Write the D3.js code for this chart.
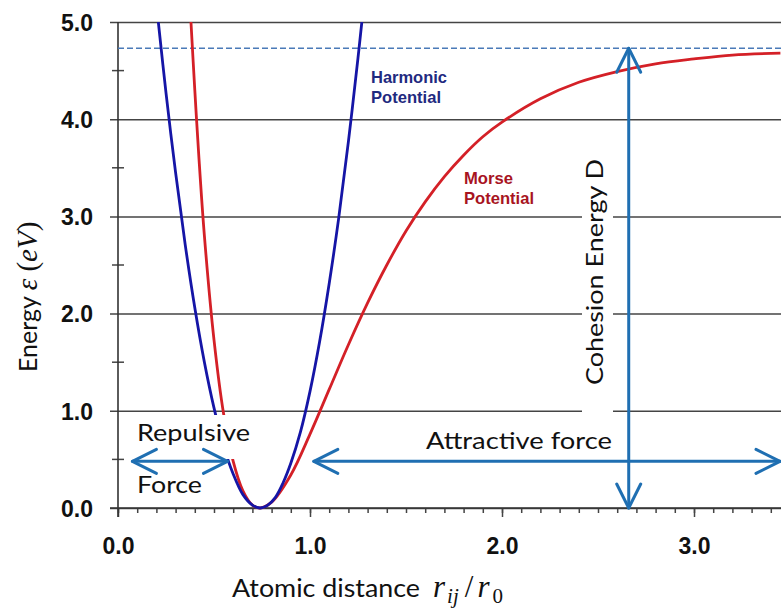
<!DOCTYPE html>
<html><head><meta charset="utf-8">
<script src="https://cdn.jsdelivr.net/npm/d3@7"></script>
<style>body{margin:0;background:#fff}svg{display:block}</style>
</head><body><svg id="chart" width="781" height="614"></svg>
<script>
// ---- data ----
const seriesNames = ["Harmonic Potential", "Morse Potential"];
const harmonicX = [0.21,0.25,0.30,0.35,0.40,0.45,0.50,0.55,0.60,0.65,0.70,0.74,0.78,0.82,0.86,0.90,0.95,1.00,1.05,1.10,1.15,1.20,1.25,1.27];
const harmonicY = [5.00,4.27,3.45,2.71,2.06,1.50,1.03,0.64,0.35,0.14,0.03,0.00,0.03,0.11,0.26,0.46,0.78,1.20,1.71,2.31,2.99,3.77,4.63,5.00];
const morseX = [0.38,0.40,0.42,0.45,0.50,0.55,0.60,0.65,0.70,0.74,0.80,0.90,1.00,1.10,1.20,1.30,1.40,1.50,1.60,1.70,1.80,1.90,2.00,2.20,2.40,2.60,2.80,3.00,3.20,3.45];
const morseY = [5.00,4.30,3.65,2.80,1.73,0.97,0.48,0.18,0.03,0.00,0.06,0.34,0.76,1.22,1.68,2.11,2.50,2.85,3.15,3.41,3.63,3.82,3.97,4.21,4.38,4.49,4.57,4.62,4.66,4.68];
const cohesionEnergy = 4.73;
const cohesionX = 2.66;
const forceArrowY = 0.48;
const repulsiveRange = [0.07, 0.57];
const attractiveRange = [1.02, 3.45];
const yTickValues = [0, 1, 2, 3, 4, 5];
const yTickLabels = ["0.0", "1.0", "2.0", "3.0", "4.0", "5.0"];
const yMinorValues = [0.5, 1.5, 2.5, 3.5, 4.5];
const xTickValues = [0, 1, 2, 3];
const xTickLabels = ["0.0", "1.0", "2.0", "3.0"];

// ---- chart ----
const W = 781, H = 614;
const svg = d3.select("#chart");
svg.append("rect").attr("width", W).attr("height", H).attr("fill", "#fff");

const x = d3.scaleLinear().domain([0, 1]).range([118, 310]);
const y = d3.scaleLinear().domain([0, 5]).range([508, 22]);
const xMax = x.invert(W);

const gridColor = "#444";
const arrowColor = "#1f6fb2";
const arial = "'Liberation Sans', Arial, sans-serif";

// horizontal gridlines + y labels (axisLeft)
const yAxis = d3.axisLeft(y).tickValues(yTickValues)
  .tickFormat((d, i) => yTickLabels[i])
  .tickSizeInner(-(W - 110)).tickSizeOuter(0).tickPadding(17);
const gy = svg.append("g").attr("transform", "translate(110,0)").call(yAxis);
gy.select(".domain").remove();
gy.selectAll(".tick line").attr("stroke", gridColor).attr("stroke-width", 1.5);
gy.selectAll(".tick text").attr("font-family", arial)
  .attr("font-weight", "bold").attr("font-size", 23).attr("fill", "#111").attr("dy", "0.36em");

// y minor ticks
svg.append("g").selectAll("line").data(yMinorValues).join("line")
  .attr("x1", 112).attr("x2", 124).attr("y1", d => y(d)).attr("y2", d => y(d))
  .attr("stroke", gridColor).attr("stroke-width", 1.5);

// x minor ticks
const xMinor = d3.range(0, 35).map(i => i / 10).filter(v => v <= xMax);
const xAxisMinor = d3.axisBottom(x).tickValues(xMinor).tickFormat("").tickSizeInner(5).tickSizeOuter(0);
const gxm = svg.append("g").attr("transform", "translate(0,508)").call(xAxisMinor);
gxm.select(".domain").remove();
gxm.selectAll(".tick line").attr("stroke", gridColor).attr("stroke-width", 1.5);

// x major ticks + labels
const xAxis = d3.axisBottom(x).tickValues(xTickValues).tickFormat((d, i) => xTickLabels[i])
  .tickSizeInner(9).tickSizeOuter(0).tickPadding(25);
const gx = svg.append("g").attr("transform", "translate(0,508)").call(xAxis);
gx.select(".domain").remove();
gx.selectAll(".tick line").attr("stroke", gridColor).attr("stroke-width", 1.5);
gx.selectAll(".tick text").attr("font-family", arial)
  .attr("font-weight", "bold").attr("font-size", 23).attr("fill", "#111").attr("dy", "0.5em");

// axis lines
svg.append("line").attr("x1", x(0)).attr("x2", x(0)).attr("y1", y(5)).attr("y2", 517)
  .attr("stroke", "#333").attr("stroke-width", 1.6);
svg.append("line").attr("x1", 110).attr("x2", W).attr("y1", y(0)).attr("y2", y(0))
  .attr("stroke", "#333").attr("stroke-width", 1.6);

// dashed cohesion level
svg.append("line").attr("x1", x(0)).attr("x2", W).attr("y1", y(cohesionEnergy)).attr("y2", y(cohesionEnergy))
  .attr("stroke", "#4a7ab8").attr("stroke-width", 1.3).attr("stroke-dasharray", "6,3");

// curves
svg.append("clipPath").attr("id", "clip").append("rect")
  .attr("x", x(0)).attr("y", y(5)).attr("width", W - x(0)).attr("height", H - y(5));
const line = d3.line().x(d => x(d[0])).y(d => y(d[1])).curve(d3.curveCatmullRom.alpha(0.5));
const harmonic = harmonicX.map((v, i) => [v, harmonicY[i]]);
const morse = morseX.map((v, i) => [v, morseY[i]]);
const curves = svg.append("g").attr("clip-path", "url(#clip)");
curves.append("path").datum(morse).attr("d", line).attr("fill", "none")
  .attr("stroke", "#d42027").attr("stroke-width", 2.8);
curves.append("path").datum(harmonic).attr("d", line).attr("fill", "none")
  .attr("stroke", "#1515a6").attr("stroke-width", 2.8);

// white label boxes (as in the original)
svg.append("rect").attr("x", 130).attr("y", 415).attr("width", 112).attr("height", 44).attr("fill", "#fff");
svg.append("rect").attr("x", 582).attr("y", 156).attr("width", 31).attr("height", 261).attr("fill", "#fff");

// arrows
function arrowHead(x0, y0, dx, dy) {
  const len = 24, half = 12;
  const bx = x0 - dx * len, by = y0 - dy * len;
  const px = -dy, py = dx;
  return `M${bx + px * half},${by + py * half}L${x0},${y0}L${bx - px * half},${by - py * half}`;
}
const ga = svg.append("g").attr("stroke", arrowColor).attr("stroke-width", 3).attr("fill", "none")
  .attr("stroke-linecap", "round").attr("stroke-linejoin", "round");
function hArrow(xa, xb, yy) {
  ga.append("line").attr("x1", xa).attr("x2", xb).attr("y1", yy).attr("y2", yy);
  ga.append("path").attr("d", arrowHead(xa, yy, -1, 0));
  ga.append("path").attr("d", arrowHead(xb, yy, 1, 0));
}
hArrow(x(repulsiveRange[0]) + 1, x(repulsiveRange[1]), y(forceArrowY));
hArrow(x(attractiveRange[0]), W - 1, y(forceArrowY));
const cx = x(cohesionX);
ga.append("line").attr("x1", cx).attr("x2", cx).attr("y1", y(cohesionEnergy)).attr("y2", y(0));
ga.append("path").attr("d", arrowHead(cx, y(cohesionEnergy), 0, -1));
ga.append("path").attr("d", arrowHead(cx, y(0), 0, 1));

// labels
const sans = "Lato, 'Open Sans', sans-serif";
const serif = "'Liberation Serif', 'DejaVu Serif', serif";
function label(t, xx, yy, size, len, opts = {}) {
  const el = svg.append("text").attr("x", xx).attr("y", yy).text(t)
    .attr("font-family", opts.family || sans).attr("font-size", size)
    .attr("fill", opts.fill || "#111").attr("font-weight", opts.weight || "normal");
  if (len) el.attr("textLength", len).attr("lengthAdjust", "spacingAndGlyphs");
  if (opts.transform) el.attr("transform", opts.transform);
  return el;
}
label("Repulsive", 137, 441, 23, 113);
label("Force", 137, 493, 23, 65);
label("Attractive force", 426, 449, 23, 186);
label("Cohesion Energy D", 0, 0, 23, 226, { transform: "translate(603,385) rotate(-90)" });

label("Harmonic", 371, 83, 16.5, 76, { family: arial, weight: "bold", fill: "#1f2a80" });
label("Potential", 371, 103, 16.5, 70, { family: arial, weight: "bold", fill: "#1f2a80" });
label("Morse", 464, 184, 16.5, 49, { family: arial, weight: "bold", fill: "#a8141f" });
label("Potential", 464, 204, 16.5, 70, { family: arial, weight: "bold", fill: "#a8141f" });

// x axis title
label("Atomic distance", 232, 597, 25, 188);
const xm = svg.append("text").attr("x", 433).attr("y", 597).attr("font-family", serif)
  .attr("font-size", 31).attr("fill", "#111");
xm.append("tspan").attr("font-style", "italic").text("r");
xm.append("tspan").attr("font-style", "italic").attr("font-size", 21).attr("dy", 6).attr("dx", 2).text("ij");
xm.append("tspan").attr("dy", -6).attr("dx", 6).text("/");
xm.append("tspan").attr("font-style", "italic").attr("dx", 4).text("r");
xm.append("tspan").attr("font-size", 21).attr("dy", 6).attr("dx", 3).text("0");

// y axis title
const yt = svg.append("text").attr("transform", "translate(37,372) rotate(-90)")
  .attr("font-family", sans).attr("font-size", 25).attr("fill", "#111");
yt.append("tspan").text("Energy ");
yt.append("tspan").attr("font-family", serif).attr("font-size", 29).attr("font-style", "italic").text("ε");
yt.append("tspan").attr("font-family", serif).attr("font-size", 29).text(" (");
yt.append("tspan").attr("font-family", serif).attr("font-size", 29).attr("font-style", "italic").text("eV");
yt.append("tspan").attr("font-family", serif).attr("font-size", 29).text(")");
</script>
</body></html>
